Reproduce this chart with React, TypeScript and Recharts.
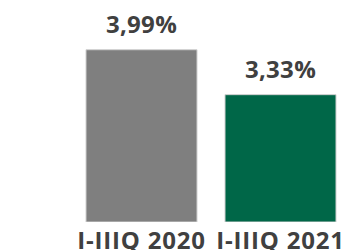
import { Bar, BarChart, Cell, LabelList, XAxis, YAxis } from "recharts";

const periods = ["I-IIIQ 2020", "I-IIIQ 2021"];
const rates = [3.99, 3.33];
const barColors = ["#7f7f7f", "#006748"];

const data = periods.map((period, i) => ({ period, rate: rates[i] }));

const textStyle = {
  fontFamily: "'Open Sans', sans-serif",
  fontSize: 24,
  fontWeight: 700,
  fill: "#404040",
};

export default function App() {
  return (
    <div style={{ position: "absolute", left: 0, top: 0, width: 354, height: 250 }}>
      <BarChart
        width={354}
        height={250}
        data={data}
        margin={{ top: 15, right: 4, left: 72, bottom: 0 }}
        barCategoryGap={14}
      >
        <XAxis
          dataKey="period"
          axisLine={false}
          tickLine={false}
          tickMargin={4}
          height={28}
          interval={0}
          tick={{ ...textStyle, letterSpacing: 0.8 }}
        />
        <YAxis hide type="number" domain={[1.46, 4.5]} allowDataOverflow />
        <Bar
          dataKey="rate"
          stroke="#d0d0d0"
          strokeWidth={1}
          isAnimationActive={false}
        >
          {data.map((entry, i) => (
            <Cell key={entry.period} fill={barColors[i]} />
          ))}
          <LabelList
            dataKey="rate"
            position="top"
            offset={17}
            style={{ ...textStyle, letterSpacing: 0.3 }}
            formatter={(v: number) => `${v.toFixed(2).replace(".", ",")}%`}
          />
        </Bar>
      </BarChart>
    </div>
  );
}
